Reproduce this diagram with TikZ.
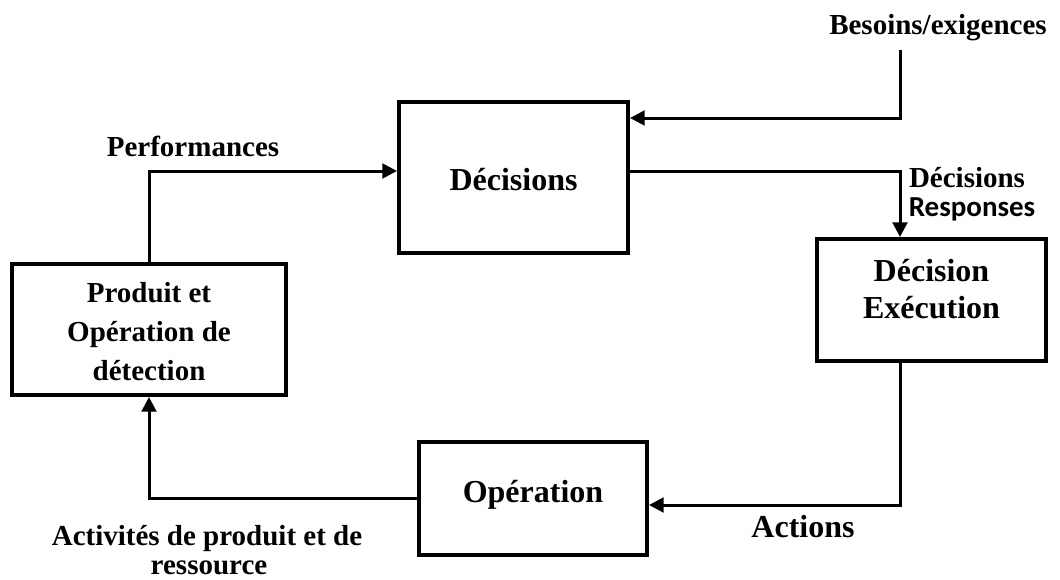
\documentclass[tikz,border=0pt]{standalone}
\usepackage{fontspec}
\setmainfont{Liberation Serif}
\newfontfamily\calib{Carlito}
\usetikzlibrary{arrows.meta}
\begin{document}
\begin{tikzpicture}[x=0.75pt,y=-0.75pt,
  box/.style={draw, line width=3pt, inner sep=0pt},
  title/.style={font=\fontsize{24}{27.75}\selectfont\bfseries, inner sep=0pt, align=center},
  lab/.style={font=\fontsize{21.75}{29.25}\selectfont\bfseries, inner sep=0pt, align=center},
  conn/.style={line width=2.25pt},
  arr/.style={conn, -{Triangle[length=11pt,width=11pt]}}]
\useasboundingbox (0,0) rectangle (1060,579);
% boxes
\node[box, minimum width=171.75pt, minimum height=113.25pt] (dec) at (513.5,177.5) {};
\node[box, minimum width=171.75pt, minimum height=91.5pt] (exe) at (931.5,300) {};
\node[box, minimum width=205.5pt, minimum height=98.25pt] (pro) at (149,329.5) {};
\node[box, minimum width=171pt, minimum height=84.75pt] (ope) at (533,498.5) {};
% box texts
\node[title, anchor=base] (decT) at (513.5,190) {Décisions};
\node[title] (exeT) at (931.5,289) {Décision\\Exécution};
\node[lab] (proT) at (149,332) {Produit et\\Opération de\\détection};
\node[title, anchor=base] (opeT) at (533,502) {Opération};
% connectors
\coordinate (besTop) at (900,50);
\coordinate (besBend) at (900,118);
\coordinate (perfBend) at (149,171);
\coordinate (dBend) at (900,171);
\coordinate (aBend) at (900,505);
\draw[arr] (besTop) -- (besBend) -- (dec.east |- besBend);
\draw[arr] (pro.north) -- (perfBend) -- (dec.west |- perfBend);
\draw[arr] (dec.east |- dBend) -- (dBend) -- (dBend |- exe.north);
\draw[arr] (aBend |- exe.south) -- (aBend) -- (ope.east |- aBend);
\draw[arr] (ope.west) -- (pro.south |- ope.west) -- (pro.south);
% labels
\node[lab, anchor=base] (besL) at (938,34) {Besoins/exigences};
\node[lab, anchor=base] (perfL) at (193,156) {Performances};
\node[lab, anchor=base] (decL) at (967,187) {Décisions};
\node[lab, anchor=base, font=\fontsize{21.75}{26}\selectfont\calib\bfseries] (resL) at (972,216) {Responses};
\node[title, anchor=base] (actL) at (803,537) {Actions};
\node[lab, anchor=base] (actiL) at (207,545) {Activités de produit et de};
\node[lab, anchor=base] (ressL) at (209,574) {ressource};
\end{tikzpicture}
\end{document}
